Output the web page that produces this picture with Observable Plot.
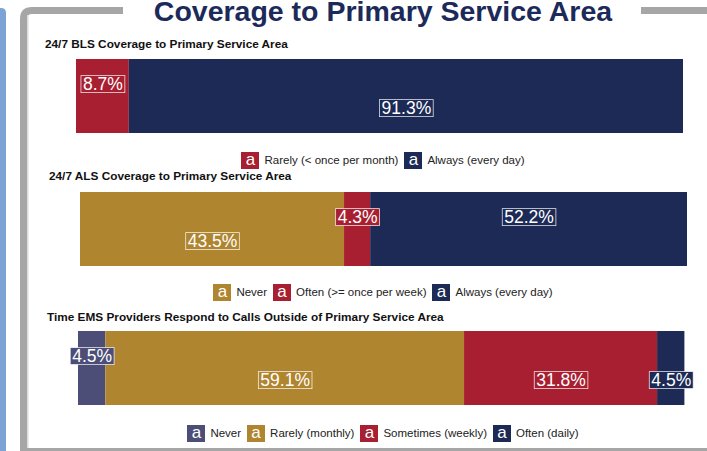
<!DOCTYPE html>
<html>
<head>
<meta charset="utf-8">
<script src="https://cdn.jsdelivr.net/npm/d3@7"></script>
<script src="https://cdn.jsdelivr.net/npm/@observablehq/plot@0.6"></script>
<style>
  body { margin: 0; background: #fff; }
  #root { position: relative; width: 707px; height: 451px; overflow: hidden; background: #fff;
          font-family: "Liberation Sans", Arial, Helvetica, sans-serif; }
  .sub { position: absolute; font-weight: bold; font-size: 11.8px; color: #111; white-space: nowrap; line-height: 1; }
  .legend { position: absolute; left: 0; width: 766px; height: 18px; display: flex; justify-content: center;
            align-items: center; font-size: 11.5px; color: #222; white-space: nowrap; }
  .item { display: flex; align-items: center; margin-right: 6px; }
  .item:last-child { margin-right: 0; }
  .key { display: inline-block; width: 18px; height: 17px; color: #fff; font-size: 17px; line-height: 16px;
         text-align: center; margin-right: 5px; }
</style>
</head>
<body>
<div id="root"></div>
<script>
// ---------------- data ----------------
const mainTitle = "Coverage to Primary Service Area";

const blsTitle = "24/7 BLS Coverage to Primary Service Area";
const blsCategories = ["Rarely (< once per month)", "Always (every day)"];
const blsValues = [8.7, 91.3];

const alsTitle = "24/7 ALS Coverage to Primary Service Area";
const alsCategories = ["Never", "Often (>= once per week)", "Always (every day)"];
const alsValues = [43.5, 4.3, 52.2];

const outsideTitle = "Time EMS Providers Respond to Calls Outside of Primary Service Area";
const outsideCategories = ["Never", "Rarely (monthly)", "Sometimes (weekly)", "Often (daily)"];
const outsideValues = [4.5, 59.1, 31.8, 4.5];

// ---------------- styles / layout ----------------
const RED = "#A71F30", NAVY = "#1C2A55", GOLD = "#AF852F", SLATE = "#4C4E77";
const panels = [
  {id: "bls", title: blsTitle, categories: blsCategories, values: blsValues,
   colors: [RED, NAVY], upper: [true, false],
   left: 76, right: 683, top: 59, subX: 45, subBase: 49, legendMid: 160},
  {id: "als", title: alsTitle, categories: alsCategories, values: alsValues,
   colors: [GOLD, RED, NAVY], upper: [false, true, true],
   left: 80, right: 687, top: 192, subX: 49, subBase: 181, legendMid: 292},
  {id: "outside", title: outsideTitle, categories: outsideCategories, values: outsideValues,
   colors: [SLATE, GOLD, RED, NAVY], upper: [true, false, false, false],
   left: 78, right: 685, top: 331, subX: 47, subBase: 322, legendMid: 433}
];
const BAR_H = 74, M = 14;

const root = document.getElementById("root");
const ns = "http://www.w3.org/2000/svg";

// decoration: side bar, frame, title
const deco = document.createElementNS(ns, "svg");
deco.setAttribute("width", 707); deco.setAttribute("height", 451);
deco.style.position = "absolute"; deco.style.left = "0"; deco.style.top = "0";
deco.innerHTML = `
  <path d="M0,451 V8 H1 Q6,8 6,13 V451 Z" fill="#7BA3D6"/>
  <path d="M23.5,451 V19 Q23.5,10.5 32,10.5 H123" stroke="#A6A6A6" stroke-width="7" fill="none"/>
  <line x1="641" x2="707" y1="10.5" y2="10.5" stroke="#A6A6A6" stroke-width="7"/>
  <line x1="20" x2="707" y1="449.5" y2="449.5" stroke="#A6A6A6" stroke-width="3"/>
  <line x1="27.8" x2="27.8" y1="15" y2="448" stroke="#DCDCDC" stroke-width="1.5"/>
`;
const t = document.createElementNS(ns, "text");
t.setAttribute("x", 383); t.setAttribute("y", 21);
t.setAttribute("text-anchor", "middle");
t.setAttribute("font-size", 28.5); t.setAttribute("font-weight", "bold");
t.setAttribute("font-family", "Liberation Sans, Arial, sans-serif");
t.setAttribute("fill", "#1C2A5A");
t.textContent = mainTitle;
deco.appendChild(t);
root.appendChild(deco);

function drawPanel(cfg) {
  const data = cfg.categories.map((c, i) => ({category: c, value: cfg.values[i], row: cfg.id, upper: cfg.upper[i]}));
  const fmt = d => d.value.toFixed(1) + "%";
  const plot = Plot.plot({
    width: 707, height: BAR_H + 2 * M,
    marginLeft: cfg.left, marginRight: 707 - cfg.right, marginTop: M, marginBottom: M,
    x: {domain: [0, 100], axis: null},
    y: {domain: [cfg.id], axis: null, padding: 0},
    color: {domain: cfg.categories, range: cfg.colors},
    style: {background: "transparent", overflow: "visible", fontFamily: "Liberation Sans, Arial, sans-serif"},
    marks: [
      Plot.barX(data, Plot.stackX({x: "value", y: "row", fill: "category"})),
      Plot.text(data, Plot.stackX({x: "value", y: "row", fill: "category",
        text: d => d.upper ? fmt(d) : null, dy: -12, fontSize: 17.5})),
      Plot.text(data, Plot.stackX({x: "value", y: "row", fill: "category",
        text: d => d.upper ? null : fmt(d), dy: 12, fontSize: 17.5}))
    ]
  });
  plot.style.position = "absolute";
  plot.style.left = "0px";
  plot.style.top = (cfg.top - M) + "px";
  root.appendChild(plot);

  // label boxes (like boxed labels) behind each text, in the segment colour
  plot.querySelectorAll('g[aria-label="text"] text').forEach(el => {
    if (!el.textContent) return;
    const b = el.getBBox();
    const col = el.getAttribute("fill") || "#000";
    const r = document.createElementNS(ns, "rect");
    r.setAttribute("x", b.x - 2);
    r.setAttribute("y", b.y + 1.5);
    r.setAttribute("width", b.width + 4);
    r.setAttribute("height", b.height - 3);
    r.setAttribute("fill", col);
    r.setAttribute("stroke", "rgba(255,255,255,0.85)");
    r.setAttribute("stroke-width", 0.8);
    const tr = el.getAttribute("transform");
    if (tr) r.setAttribute("transform", tr);
    el.parentNode.insertBefore(r, el);
    el.setAttribute("fill", "#fff");
  });

  // subtitle
  const sub = document.createElement("div");
  sub.className = "sub";
  sub.textContent = cfg.title;
  sub.style.left = cfg.subX + "px";
  sub.style.top = (cfg.subBase - 9.7) + "px";
  root.appendChild(sub);

  // legend
  const lg = document.createElement("div");
  lg.className = "legend";
  lg.style.top = (cfg.legendMid - 9) + "px";
  cfg.categories.forEach((c, i) => {
    const it = document.createElement("span");
    it.className = "item";
    const k = document.createElement("span");
    k.className = "key";
    k.style.background = cfg.colors[i];
    k.textContent = "a";
    const lab = document.createElement("span");
    lab.textContent = c;
    it.appendChild(k); it.appendChild(lab);
    lg.appendChild(it);
  });
  root.appendChild(lg);
}

panels.forEach(drawPanel);
</script>
</body>
</html>
